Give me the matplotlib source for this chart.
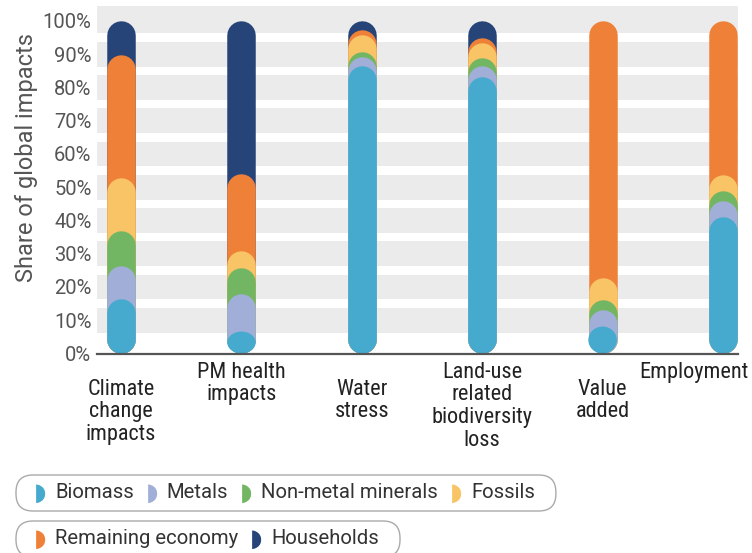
import numpy as np
import matplotlib.pyplot as plt
import matplotlib.transforms as mtransforms
from matplotlib.patches import FancyBboxPatch, Ellipse

# ============ Data (share of global impacts, %) ============
categories = ["Climate\nchange\nimpacts", "PM health\nimpacts", "Water\nstress",
              "Land-use\nrelated\nbiodiversity\nloss", "Value\nadded", "Employment"]
series = ["Biomass", "Metals", "Non-metal minerals", "Fossils",
          "Remaining economy", "Households"]
biomass    = [16.4, 6.6, 86.6, 83.2, 8.1, 41.0]
metals     = [10.0, 11.5, 2.7, 3.4, 5.0, 5.0]
non_metal  = [10.4, 7.7, 1.3, 2.2, 3.0, 2.9]
fossils    = [16.1, 5.1, 5.2, 4.7, 6.8, 4.8]
remaining  = [36.9, 23.1, 1.5, 1.6, 77.1, 46.3]
households = [10.2, 46.0, 2.7, 4.9, 0.0, 0.0]
yticks = [0, 10, 20, 30, 40, 50, 60, 70, 80, 90, 100]

colors = ["#45AACE", "#A1AED8", "#72B663", "#F8C465", "#EE8038", "#264478"]
legend_rows = [[0, 1, 2, 3], [4, 5]]

# ============ Layout (pixels) ============
W, H = 752, 553
ax_l, ax_r, ax_t, ax_b = 97, 738, 6, 353.5
YMAX = 104.5
XMIN, XMAX = -0.2, 5.125
BAR_PX = 28.5
NARROW = ["Roboto Condensed", "Liberation Sans Narrow", "DejaVu Sans"]

fig = plt.figure(figsize=(W / 100, H / 100), dpi=100)
ax = fig.add_axes([ax_l / W, 1 - ax_b / H, (ax_r - ax_l) / W, (ax_b - ax_t) / H])
ax.set_xlim(XMIN, XMAX)
ax.set_ylim(0, YMAX)

# gray bands around each tick
for v in yticks[1:]:
    top = YMAX if v == 100 else v + 3.7
    ax.axhspan(v - 3.7, top, color="#EBEBEB", lw=0, zorder=0)

# stacked "pill" bars: cumulative lines with round caps, top layer drawn first
data = np.array([biomass, metals, non_metal, fossils, remaining, households])
cum = np.cumsum(data, axis=0)
r = (BAR_PX / 2) * YMAX / (ax_b - ax_t)          # cap radius, y data units
bar_w = BAR_PX * (XMAX - XMIN) / (ax_r - ax_l)   # bar width, x data units
lw = BAR_PX * 72 / 100
x = np.arange(len(categories))
for k in range(len(series) - 1, -1, -1):
    for i in x:
        if data[k, i] <= 0:
            continue
        top = cum[k, i]
        z = 2 + (len(series) - k)
        if top >= 2 * r:
            ax.plot([i, i], [r, top - r], color=colors[k], lw=lw,
                    solid_capstyle="round", zorder=z)
        else:
            # too short for a full pill: squashed round blob
            ax.add_patch(Ellipse((i, top / 2), bar_w, top, color=colors[k],
                                 lw=0, zorder=z))

# axes styling
for s in ["left", "right", "top"]:
    ax.spines[s].set_visible(False)
ax.spines["bottom"].set_color("#555555")
ax.spines["bottom"].set_linewidth(1.6)
ax.spines["bottom"].set_zorder(20)
ax.set_yticks(yticks)
ax.set_yticklabels([f"{v}%" for v in yticks], fontsize=14.5, color="#555555",
                   family=["Roboto", "DejaVu Sans"])
ax.tick_params(axis="y", length=0, pad=4)
ax.set_xticks([])

# category labels, staggered
trans = mtransforms.blended_transform_factory(ax.transData, ax.transAxes)
for i, lab in enumerate(categories):
    yy = -0.072 if i % 2 == 0 else -0.024
    ha, xx = "center", i
    if i == len(categories) - 1:
        ha, xx = "right", 5.21
    ax.text(xx, yy, lab, transform=trans, ha=ha, va="top", fontsize=16,
            color="#222222", linespacing=1.1, family=NARROW,
            fontstretch="condensed")

fig.text(27 / W, 1 - 158 / H, "Share of global impacts", rotation=90,
         ha="center", va="center", fontsize=17, color="#555555",
         family=["Roboto", "DejaVu Sans"])

# ============ Legend (two pill boxes) ============
renderer = fig.canvas.get_renderer()
row_y = [493, 539]
for row, yc in zip(legend_rows, row_y):
    xp = 34
    for k in row:
        fig.text(xp / W, 1 - yc / H, "\u25D7", color=colors[k], fontsize=17,
                 ha="left", va="center", family="DejaVu Sans")
        xp += 21
        t = fig.text(xp / W, 1 - yc / H, series[k], color="#333333", fontsize=14.6,
                     ha="left", va="center", family=["Roboto", "DejaVu Sans"])
        xp += t.get_window_extent(renderer).width + 12
    right = xp - 12 + 21
    box = FancyBboxPatch((16 / W, 1 - (yc + 18) / H), (right - 16) / W, 36 / H,
                         boxstyle=f"round,pad=0,rounding_size={17 / W}",
                         transform=fig.transFigure, fc="white", ec="#AAAAAA",
                         lw=1.0, mutation_aspect=W / H, zorder=-1)
    fig.patches.append(box)

fig.savefig("out.png", dpi=100)
